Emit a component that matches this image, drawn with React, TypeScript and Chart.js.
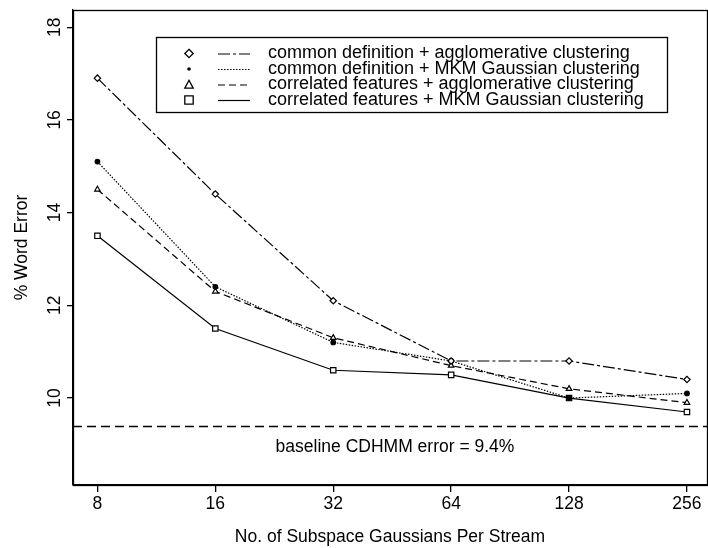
import React, { useEffect, useRef } from 'react';
import { Chart, registerables } from 'chart.js';

Chart.register(...registerables);

// ---- data ----
const gaussians = [8, 16, 32, 64, 128, 256];
const commonAgglo = [16.9, 14.4, 12.1, 10.8, 10.8, 10.4];
const commonMkm = [15.1, 12.4, 11.2, 10.8, 10.0, 10.1];
const corrAgglo = [14.5, 12.3, 11.3, 10.7, 10.2, 9.9];
const corrMkm = [13.5, 11.5, 10.6, 10.5, 10.0, 9.7];
const seriesLabels = [
  'common definition + agglomerative clustering',
  'common definition + MKM Gaussian clustering',
  'correlated features + agglomerative clustering',
  'correlated features + MKM Gaussian clustering',
];
const yTickValues = [10, 12, 14, 16, 18];
const baselineError = 9.4;
const baselineLabel = 'baseline CDHMM error = 9.4%';
const xTitle = 'No. of Subspace Gaussians Per Stream';
const yTitle = '% Word Error';

const FONT = '"Liberation Sans", Arial, Helvetica, sans-serif';
const FS = 17.5;

type Sym = 'diamond' | 'dot' | 'triangle' | 'square';
const seriesSymbols: Sym[] = ['diamond', 'dot', 'triangle', 'square'];
const seriesDashes: number[][] = [[12, 3, 3, 3], [1.5, 1.5], [7, 4], []];

function drawSymbol(ctx: CanvasRenderingContext2D, sym: Sym, x: number, y: number, s: number) {
  ctx.save();
  ctx.setLineDash([]);
  ctx.lineWidth = 1.3;
  ctx.strokeStyle = '#000';
  ctx.fillStyle = '#000';
  ctx.beginPath();
  if (sym === 'diamond') {
    ctx.moveTo(x, y - s);
    ctx.lineTo(x + s, y);
    ctx.lineTo(x, y + s);
    ctx.lineTo(x - s, y);
    ctx.closePath();
    ctx.stroke();
  } else if (sym === 'dot') {
    ctx.arc(x, y, s * 0.4, 0, Math.PI * 2);
    ctx.fill();
  } else if (sym === 'triangle') {
    ctx.moveTo(x, y - s);
    ctx.lineTo(x + s, y + s * 0.85);
    ctx.lineTo(x - s, y + s * 0.85);
    ctx.closePath();
    ctx.stroke();
  } else {
    ctx.rect(x - s, y - s, 2 * s, 2 * s);
    ctx.stroke();
  }
  ctx.restore();
}

const decorPlugin = {
  id: 'decor',
  beforeDatasetsDraw(chart: any) {
    const { ctx, chartArea, scales } = chart;
    const y = Math.round(scales.y.getPixelForValue(baselineError)) + 0.5;
    ctx.save();
    ctx.strokeStyle = '#000';
    ctx.lineWidth = 1.3;
    ctx.setLineDash([9, 5]);
    ctx.beginPath();
    ctx.moveTo(chartArea.left, y);
    ctx.lineTo(chartArea.right, y);
    ctx.stroke();
    ctx.setLineDash([]);
    ctx.fillStyle = '#000';
    ctx.font = `${FS}px ${FONT}`;
    ctx.textAlign = 'center';
    ctx.textBaseline = 'middle';
    ctx.fillText(baselineLabel, (chartArea.left + chartArea.right) / 2 + 5, y + 21);
    ctx.restore();
  },
  afterDraw(chart: any) {
    const { ctx, chartArea, scales } = chart;
    ctx.save();
    // frame
    ctx.strokeStyle = '#000';
    ctx.lineWidth = 1.3;
    ctx.setLineDash([]);
    ctx.strokeRect(
      Math.round(chartArea.left) + 0.5,
      Math.round(chartArea.top) + 0.5,
      Math.round(chartArea.right - chartArea.left),
      Math.round(chartArea.bottom - chartArea.top)
    );
    // rotated y tick labels
    ctx.fillStyle = '#000';
    ctx.font = `${FS}px ${FONT}`;
    ctx.textAlign = 'center';
    ctx.textBaseline = 'middle';
    yTickValues.forEach((v) => {
      const py = scales.y.getPixelForValue(v);
      ctx.save();
      ctx.translate(55, py);
      ctx.rotate(-Math.PI / 2);
      ctx.fillText(String(v), 0, 0);
      ctx.restore();
    });
    // legend
    const bx = 156.5, by = 37.5, bw = 511, bh = 75;
    ctx.fillStyle = '#fff';
    ctx.fillRect(bx, by, bw, bh);
    ctx.strokeStyle = '#000';
    ctx.lineWidth = 1.3;
    ctx.strokeRect(bx, by, bw, bh);
    const rows = [53.5, 69, 84.5, 100];
    ctx.font = `18px ${FONT}`;
    chart.data.datasets.forEach((ds: any, i: number) => {
      const ry = rows[i];
      const sym = seriesSymbols[i];
      drawSymbol(ctx, sym, 189, ry, sym === 'dot' ? 4.5 : 4.2);
      ctx.save();
      ctx.setLineDash(seriesDashes[i]);
      ctx.lineWidth = 1.2;
      ctx.beginPath();
      ctx.moveTo(218, ry + 0.5);
      ctx.lineTo(250, ry + 0.5);
      ctx.stroke();
      ctx.restore();
      ctx.fillStyle = '#000';
      ctx.textAlign = 'left';
      ctx.textBaseline = 'middle';
      ctx.fillText(ds.label, 268, ry);
    });
    ctx.restore();
  },
};

export default function App() {
  const ref = useRef<HTMLCanvasElement | null>(null);
  useEffect(() => {
    document.body.style.margin = '0';
    const canvas = ref.current;
    if (!canvas) return;
    const series = [commonAgglo, commonMkm, corrAgglo, corrMkm];
    const pointStyles = ['rectRot', 'circle', 'triangle', 'rect'];
    const radii = [3.2, 2.3, 3.2, 3.8];
    const chart = new Chart(canvas, {
      type: 'line',
      data: {
        datasets: series.map((vals, i) => ({
          label: seriesLabels[i],
          data: gaussians.map((g, j) => ({ x: g, y: vals[j] })),
          borderColor: '#000',
          borderWidth: 1.2,
          borderDash: seriesDashes[i],
          pointStyle: pointStyles[i],
          pointRadius: radii[i],
          pointBorderWidth: 1.2,
          pointBorderColor: '#000',
          pointBackgroundColor: i === 1 ? '#000' : '#fff',
          fill: false,
          tension: 0,
        })),
      },
      options: {
        animation: false,
        responsive: false,
        devicePixelRatio: 1,
        layout: { autoPadding: false, padding: { top: 10, right: 1, left: 0, bottom: 0 } },
        plugins: { legend: { display: false }, tooltip: { enabled: false } },
        scales: {
          x: {
            type: 'logarithmic',
            min: 6.93,
            max: 288,
            afterBuildTicks: (s: any) => {
              s.ticks = gaussians.map((v) => ({ value: v }));
            },
            afterFit: (s: any) => {
              s.height = 63;
              s.paddingLeft = 0;
              s.paddingRight = 0;
            },
            ticks: {
              autoSkip: false,
              maxRotation: 0,
              padding: 2,
              color: '#000',
              font: { family: FONT, size: FS },
              callback: (v: any) => String(v),
            },
            grid: { drawOnChartArea: false, drawTicks: true, tickLength: 7, color: '#000', tickColor: '#000', lineWidth: 1.3 },
            border: { display: true, color: '#000', width: 1.3 },
            title: {
              display: true,
              text: xTitle,
              color: '#000',
              font: { family: FONT, size: FS },
              padding: { top: 0, bottom: 0 },
            },
          },
          y: {
            type: 'linear',
            min: 8.125,
            max: 18.37,
            afterBuildTicks: (s: any) => {
              s.ticks = yTickValues.map((v) => ({ value: v }));
            },
            afterFit: (s: any) => {
              s.width = 73;
              s.paddingTop = 0;
              s.paddingBottom = 0;
            },
            ticks: { display: false },
            grid: { drawOnChartArea: false, drawTicks: true, tickLength: 6, color: '#000', tickColor: '#000', lineWidth: 1.3 },
            border: { display: true, color: '#000', width: 1.3 },
            title: {
              display: true,
              text: yTitle,
              color: '#000',
              font: { family: FONT, size: FS },
              padding: { top: 12, bottom: 0 },
            },
          },
        },
      },
      plugins: [decorPlugin],
    } as any);
    return () => chart.destroy();
  }, []);
  return <canvas ref={ref} width={708} height={548} style={{ display: 'block' }} />;
}
